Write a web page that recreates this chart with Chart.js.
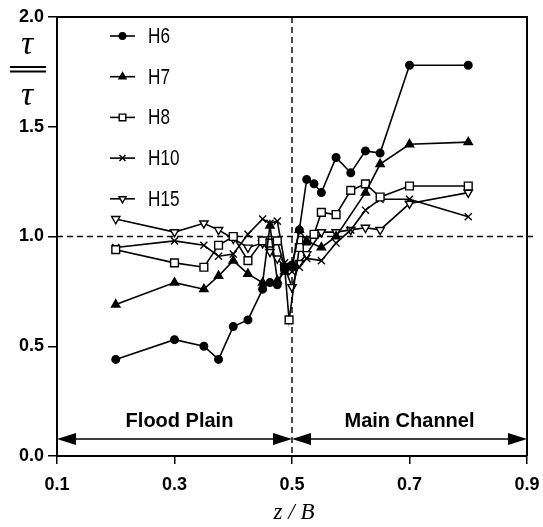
<!DOCTYPE html>
<html>
<head>
<meta charset="UTF-8">
<title>Tau ratio across z/B</title>
<style>
    body { margin: 0; padding: 0; background: #fff; }
    #wrap { width: 543px; height: 527px; }
</style>
<script src="https://cdn.jsdelivr.net/npm/chart.js"></script>
</head>
<body>
<div id="wrap"><canvas id="tauChart" width="543" height="527"></canvas></div>
<script>
// tick positions
const xTicks = [0.1, 0.3, 0.5, 0.7, 0.9];
const yTicks = [0.0, 0.5, 1.0, 1.5, 2.0];

// series (x = z/B, y = tau ratio)
const xH6  = [0.2, 0.3, 0.35, 0.375, 0.4, 0.425, 0.45, 0.4625, 0.475, 0.4875, 0.5, 0.5125, 0.525, 0.5375, 0.55, 0.575, 0.6, 0.625, 0.65, 0.7, 0.8];
const yH6  = [0.44, 0.53, 0.50, 0.44, 0.59, 0.62, 0.76, 0.79, 0.78, 0.86, 0.87, 1.03, 1.26, 1.24, 1.20, 1.36, 1.29, 1.39, 1.38, 1.78, 1.78];

const xH7  = [0.2, 0.3, 0.35, 0.375, 0.4, 0.425, 0.45, 0.4625, 0.475, 0.4875, 0.5, 0.5125, 0.525, 0.55, 0.575, 0.625, 0.65, 0.7, 0.8];
const yH7  = [0.69, 0.79, 0.76, 0.82, 0.89, 0.83, 0.79, 1.05, 0.80, 0.84, 0.86, 1.03, 0.98, 0.95, 1.00, 1.20, 1.33, 1.42, 1.43];

const xH8  = [0.2, 0.3, 0.35, 0.375, 0.4, 0.425, 0.45, 0.4625, 0.475, 0.4875, 0.495, 0.5125, 0.525, 0.5375, 0.55, 0.575, 0.6, 0.625, 0.65, 0.7, 0.8];
const yH8  = [0.94, 0.88, 0.86, 0.96, 1.00, 0.89, 0.98, 0.97, 0.98, 0.86, 0.62, 0.95, 0.98, 1.01, 1.11, 1.10, 1.21, 1.24, 1.18, 1.23, 1.23];

const xH10 = [0.2, 0.3, 0.35, 0.375, 0.4, 0.425, 0.45, 0.4625, 0.475, 0.4875, 0.5, 0.5125, 0.525, 0.55, 0.575, 0.6, 0.625, 0.65, 0.7, 0.8];
const yH10 = [0.95, 0.98, 0.96, 0.91, 0.92, 1.01, 1.08, 1.06, 1.07, 0.88, 0.84, 0.86, 0.90, 0.89, 0.97, 1.03, 1.12, 1.17, 1.17, 1.09];

const xH15 = [0.2, 0.3, 0.35, 0.375, 0.4, 0.425, 0.45, 0.4625, 0.475, 0.4875, 0.5, 0.5125, 0.525, 0.55, 0.575, 0.6, 0.625, 0.65, 0.7, 0.8];
const yH15 = [1.08, 1.02, 1.06, 1.03, 0.99, 0.95, 0.97, 0.93, 0.90, 0.86, 0.77, 0.88, 0.92, 1.02, 1.02, 1.03, 1.04, 1.03, 1.15, 1.20];

const seriesNames = ['H6', 'H7', 'H8', 'H10', 'H15'];
const seriesX = [xH6, xH7, xH8, xH10, xH15];
const seriesY = [yH6, yH7, yH8, yH10, yH15];

// marker look per series
const markers = [
    { pointStyle: 'circle',   radius: 3.8, rotation: 0,   fill: '#000' },
    { pointStyle: 'triangle', radius: 4.8, rotation: 0,   fill: '#000' },
    { pointStyle: 'rect',     radius: 5.5, rotation: 0,   fill: '#fff' },
    { pointStyle: 'crossRot', radius: 5,   rotation: 0,   fill: '#fff' },
    { pointStyle: 'triangle', radius: 4.8, rotation: 180, fill: '#fff' }
];

const datasets = seriesNames.map(function(name, i) {
    return {
        label: name,
        data: seriesX[i].map(function(x, j) { return { x: x, y: seriesY[i][j] }; }),
        borderColor: '#000',
        borderWidth: 1.6,
        backgroundColor: markers[i].fill,
        pointStyle: markers[i].pointStyle,
        pointRadius: markers[i].radius,
        pointRotation: markers[i].rotation,
        pointBorderColor: '#000',
        pointBackgroundColor: markers[i].fill,
        pointBorderWidth: 1.4,
        tension: 0,
        fill: false
    };
});

const refLines = {
    id: 'refLines',
    beforeDatasetsDraw(chart) {
        const ctx = chart.ctx, a = chart.chartArea;
        const xs = chart.scales.x, ys = chart.scales.y;
        ctx.save();
        ctx.strokeStyle = '#000';
        ctx.lineWidth = 1.4;
        ctx.setLineDash([6, 4]);
        const y1 = ys.getPixelForValue(1.0);
        ctx.beginPath();
        ctx.moveTo(a.left, y1);
        ctx.lineTo(a.right + 6, y1);
        ctx.stroke();
        const x5 = xs.getPixelForValue(0.5);
        ctx.beginPath();
        ctx.moveTo(x5, a.top);
        ctx.lineTo(x5, a.bottom);
        ctx.stroke();
        ctx.restore();
    }
};

function arrowHead(ctx, tipX, y, dir) {
    ctx.beginPath();
    ctx.moveTo(tipX, y);
    ctx.lineTo(tipX + dir * 19, y - 6);
    ctx.lineTo(tipX + dir * 19, y + 6);
    ctx.closePath();
    ctx.fill();
}

const notes = {
    id: 'notes',
    afterDraw(chart) {
        const ctx = chart.ctx, a = chart.chartArea;
        const xs = chart.scales.x, ys = chart.scales.y;
        ctx.save();
        // top and right frame
        ctx.strokeStyle = '#000';
        ctx.lineWidth = 2;
        ctx.beginPath();
        ctx.moveTo(a.left, a.top);
        ctx.lineTo(a.right, a.top);
        ctx.lineTo(a.right, a.bottom);
        ctx.stroke();

        // region arrows
        const ay = ys.getPixelForValue(0.077);
        const xl = xs.getPixelForValue(0.1), xm = xs.getPixelForValue(0.5), xr = xs.getPixelForValue(0.9);
        ctx.fillStyle = '#000';
        ctx.lineWidth = 1.5;
        ctx.beginPath();
        ctx.moveTo(xl + 10, ay); ctx.lineTo(xm - 10, ay);
        ctx.moveTo(xm + 10, ay); ctx.lineTo(xr - 10, ay);
        ctx.stroke();
        arrowHead(ctx, xl, ay, 1);
        arrowHead(ctx, xm, ay, -1);
        arrowHead(ctx, xm, ay, 1);
        arrowHead(ctx, xr, ay, -1);

        ctx.font = 'bold 20px "Liberation Sans", Arial, sans-serif';
        ctx.textAlign = 'center';
        ctx.textBaseline = 'middle';
        ctx.fillText('Flood Plain', (xl + xm) / 2 + 5, ay - 18);
        ctx.fillText('Main Channel', (xm + xr) / 2, ay - 18);

        // axis titles
        ctx.font = 'italic 23px "Liberation Serif", "DejaVu Serif", serif';
        ctx.fillText('z / B', (xl + xr) / 2 + 2, 513);

        ctx.font = 'italic 34px "Liberation Serif", "DejaVu Serif", serif';
        ctx.fillText('\u03C4', 27, 45);
        ctx.fillText('\u03C4', 27, 96);
        ctx.lineWidth = 2;
        ctx.beginPath();
        ctx.moveTo(10, 67); ctx.lineTo(46, 67);
        ctx.moveTo(10, 71.5); ctx.lineTo(46, 71.5);
        ctx.stroke();

        // legend
        const legendTop = 36, legendStep = 40.7;
        chart.data.datasets.forEach(function(ds, i) {
            const y = legendTop + i * legendStep;
            ctx.strokeStyle = '#000';
            ctx.lineWidth = 1.6;
            ctx.beginPath();
            ctx.moveTo(110, y); ctx.lineTo(135, y);
            ctx.stroke();
            ctx.fillStyle = markers[i].fill;
            ctx.strokeStyle = '#000';
            ctx.lineWidth = 1.4;
            Chart.helpers.drawPoint(ctx, {
                pointStyle: markers[i].pointStyle,
                radius: markers[i].radius * 0.85,
                rotation: markers[i].rotation,
                borderWidth: 1.4
            }, 122.5, y);
            ctx.fillStyle = '#000';
            ctx.save();
            ctx.translate(148, y);
            ctx.scale(0.78, 1);
            ctx.font = '22px "Liberation Sans", Arial, sans-serif';
            ctx.textAlign = 'left';
            ctx.textBaseline = 'middle';
            ctx.fillText(ds.label, 0, 1);
            ctx.restore();
        });
        ctx.restore();
    }
};

const tickFont = { family: '"Liberation Sans", Arial, sans-serif', size: 18, weight: 'bold' };

new Chart(document.getElementById('tauChart'), {
    type: 'line',
    data: { datasets: datasets },
    options: {
        responsive: false,
        animation: false,
        layout: { padding: { top: 17, right: 16, left: 0, bottom: 0 } },
        plugins: { legend: { display: false }, tooltip: { enabled: false } },
        scales: {
            x: {
                type: 'linear',
                min: 0.1,
                max: 0.9,
                afterBuildTicks: function(scale) { scale.ticks = xTicks.map(function(v) { return { value: v }; }); },
                afterFit: function(scale) {
                    scale.height = 71;
                    scale.paddingLeft = 0;
                    scale.paddingRight = 0;
                },
                ticks: { color: '#000', font: tickFont, padding: 10, maxRotation: 0,
                         callback: function(v) { return v.toFixed(1); } },
                grid: { drawOnChartArea: false, color: '#000', tickLength: 8, lineWidth: 1.5 },
                border: { color: '#000', width: 2 }
            },
            y: {
                type: 'linear',
                min: 0,
                max: 2,
                afterBuildTicks: function(scale) { scale.ticks = yTicks.map(function(v) { return { value: v }; }); },
                afterFit: function(scale) {
                    scale.width = 57;
                    scale.paddingTop = 0;
                    scale.paddingBottom = 0;
                },
                ticks: { color: '#000', font: tickFont, padding: 4,
                         callback: function(v) { return v.toFixed(1); } },
                grid: { drawOnChartArea: false, color: '#000', tickLength: 9, lineWidth: 1.5 },
                border: { color: '#000', width: 2 }
            }
        }
    },
    plugins: [refLines, notes]
});
</script>
</body>
</html>
